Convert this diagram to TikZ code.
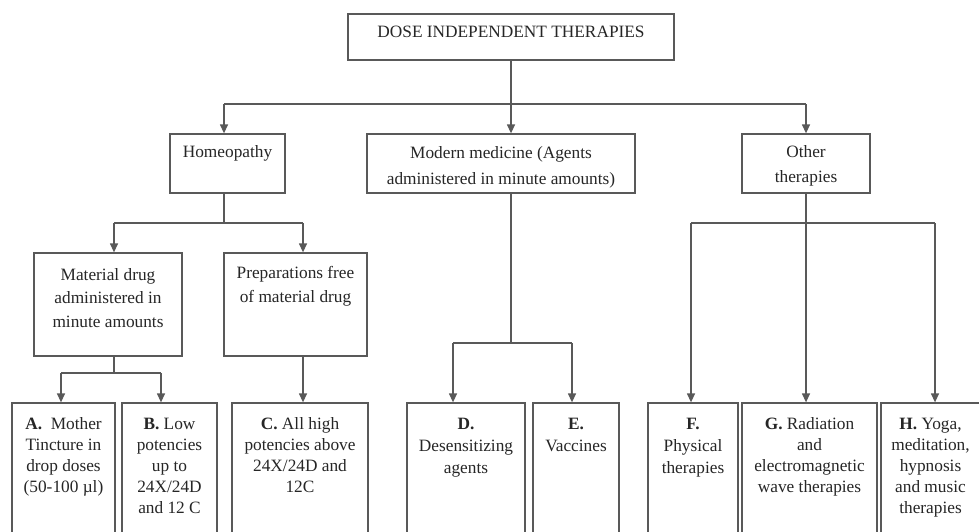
\documentclass[tikz,border=0pt]{standalone}
\usepackage{fontspec}
\setmainfont{Liberation Serif}
\usetikzlibrary{arrows.meta}
\newcommand{\boxlbl}[3]{\parbox[t]{#1pt}{\centering\fontsize{17.3}{#2}\selectfont #3\par}}
\begin{document}
\begin{tikzpicture}[x=1pt,y=-1pt,
  box/.style={draw=black!65, line width=1.3pt, rectangle, inner sep=0pt},
  conn/.style={draw=black!65, line width=1.3pt},
  arr/.style={conn, -{Triangle[length=9pt,width=8pt]}},
  txt/.style={anchor=base, inner sep=0pt, text=black!85}]
\useasboundingbox (0,0) rectangle (979,531);
\clip (0,0) rectangle (979,531);
\fill[white] (0,0) rectangle (979,531);

% level 0
\node[box, minimum width=326pt, minimum height=46pt,
  label={[txt, yshift=-24pt]north:\boxlbl{320}{24}{DOSE INDEPENDENT THERAPIES}}] (top) at (511,37) {};
% level 1
\node[box, minimum width=115pt, minimum height=59pt,
  label={[txt, yshift=-24pt]north:\boxlbl{110}{25}{Homeopathy}}] (homeo) at (227.5,163.5) {};
\node[box, minimum width=268pt, minimum height=59pt,
  label={[txt, yshift=-25pt]north:\boxlbl{262}{26}{Modern medicine (Agents\\administered in minute amounts)}}] (modern) at (501,163.5) {};
\node[box, minimum width=128pt, minimum height=59pt,
  label={[txt, yshift=-24pt]north:\boxlbl{122}{25}{Other\\therapies}}] (other) at (806,163.5) {};
% level 2
\node[box, minimum width=148pt, minimum height=103pt,
  label={[txt, yshift=-28pt]north:\boxlbl{144}{23.5}{Material drug\\administered in\\minute amounts}}] (material) at (108,304.5) {};
\node[box, minimum width=143pt, minimum height=103pt,
  label={[txt, yshift=-26pt]north:\boxlbl{140}{24}{Preparations free\\of material drug}}] (prep) at (295.5,304.5) {};
% level 3
\node[box, minimum width=103pt, minimum height=142pt,
  label={[txt, yshift=-27pt]north:\boxlbl{100}{21}{\textbf{A.}\ \ Mother\\Tincture in\\drop doses\\(50-100 µl)}}] (A) at (63.5,474) {};
\node[box, minimum width=95pt, minimum height=142pt,
  label={[txt, yshift=-27pt]north:\boxlbl{92}{21}{\textbf{B.} Low\\potencies\\up to\\24X/24D\\and 12 C}}] (B) at (169.5,474) {};
\node[box, minimum width=136pt, minimum height=142pt,
  label={[txt, yshift=-27pt]north:\boxlbl{132}{21}{\textbf{C.} All high\\potencies above\\24X/24D and\\12C}}] (C) at (300,474) {};
\node[box, minimum width=118pt, minimum height=142pt,
  label={[txt, yshift=-27pt]north:\boxlbl{114}{22}{\textbf{D.}\\Desensitizing\\agents}}] (D) at (466,474) {};
\node[box, minimum width=86pt, minimum height=142pt,
  label={[txt, yshift=-27pt]north:\boxlbl{84}{22}{\textbf{E.}\\Vaccines}}] (E) at (576,474) {};
\node[box, minimum width=90pt, minimum height=142pt,
  label={[txt, yshift=-27pt]north:\boxlbl{88}{22}{\textbf{F.}\\Physical\\therapies}}] (F) at (693,474) {};
\node[box, minimum width=135pt, minimum height=142pt,
  label={[txt, yshift=-27pt]north:\boxlbl{132}{21}{\textbf{G.} Radiation\\and\\electromagnetic\\wave therapies}}] (G) at (809.5,474) {};
\node[box, minimum width=99pt, minimum height=142pt,
  label={[txt, yshift=-27pt]north:\boxlbl{96}{21}{\textbf{H.} Yoga,\\meditation,\\hypnosis\\and music\\therapies}}] (H) at (930.5,474) {};

% junction coordinates
\coordinate (hA) at (224,104);
\coordinate (hB) at (806,104);
\coordinate (m1) at (114,223);
\coordinate (m2) at (303,223);
\coordinate (a1) at (61,373);
\coordinate (a2) at (161,373);
\coordinate (d1) at (453,343);
\coordinate (d2) at (572,343);
\coordinate (o1) at (691,223);
\coordinate (o3) at (935,223);

% top level
\draw[conn] (top.south) -- (top.south |- hA);
\draw[conn] (hA) -- (hB);
\draw[arr] (hA) -- (hA |- homeo.north);
\draw[arr] (top.south |- hA) -- (top.south |- modern.north);
\draw[arr] (hB) -- (hB |- other.north);

% homeopathy
\draw[conn] (hA |- homeo.south) -- (hA |- m1);
\draw[conn] (m1) -- (m2);
\draw[arr] (m1) -- (m1 |- material.north);
\draw[arr] (m2) -- (m2 |- prep.north);

% material drug
\draw[conn] (m1 |- material.south) -- (m1 |- a1);
\draw[conn] (a1) -- (a2);
\draw[arr] (a1) -- (a1 |- A.north);
\draw[arr] (a2) -- (a2 |- B.north);

% preparations
\draw[arr] (m2 |- prep.south) -- (m2 |- C.north);

% modern medicine
\draw[conn] (top.south |- modern.south) -- (top.south |- d1);
\draw[conn] (d1) -- (d2);
\draw[arr] (d1) -- (d1 |- D.north);
\draw[arr] (d2) -- (d2 |- E.north);

% other therapies
\draw[conn] (o1) -- (o3);
\draw[arr] (hB |- other.south) -- (hB |- G.north);
\draw[arr] (o1) -- (o1 |- F.north);
\draw[arr] (o3) -- (o3 |- H.north);
\end{tikzpicture}
\end{document}
